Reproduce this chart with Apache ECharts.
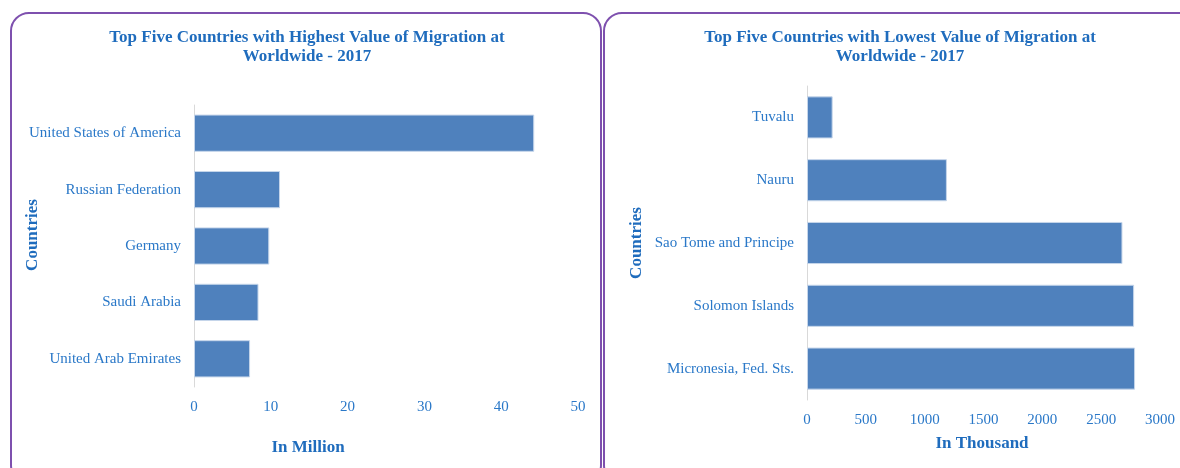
<!DOCTYPE html>
<html>
<head>
<meta charset="utf-8">
<script src="https://cdn.jsdelivr.net/npm/echarts@6/dist/echarts.min.js"></script>
<style>
  html, body { margin: 0; padding: 0; background: #ffffff; }
  #main { width: 1180px; height: 468px; }
</style>
</head>
<body>
<div id="main"></div>
<script>
// highest migration (millions)
var highCountries = ['United Arab Emirates', 'Saudi Arabia', 'Germany', 'Russian Federation', 'United States of America'];
var highValues = [7.3, 8.4, 9.8, 11.2, 44.3];

// lowest migration (thousands)
var lowCountries = ['Micronesia, Fed. Sts.', 'Solomon Islands', 'Sao Tome and Principe', 'Nauru', 'Tuvalu'];
var lowValues = [2788, 2780, 2681, 1189, 218];

var blueText = '#2a78c8';
var titleBlue = '#1f6cbd';
var serif = '"Liberation Serif", "DejaVu Serif", serif';

var myChart = echarts.init(document.getElementById('main'));

function panel(x, w) {
    return {
        type: 'rect',
        shape: { x: x, y: 13, width: w, height: 470, r: 18 },
        style: { fill: 'none', stroke: '#7e50ae', lineWidth: 2 },
        silent: true,
        z: -1
    };
}

function label(txt, x, y, size, rot) {
    return {
        type: 'text',
        x: x,
        y: y,
        rotation: rot || 0,
        style: {
            text: txt,
            align: 'center',
            verticalAlign: 'middle',
            fill: titleBlue,
            font: 'bold ' + size + 'px ' + serif,
            lineHeight: 19
        },
        silent: true
    };
}

function plain(v) {
    return String(v);
}

var option = {
    backgroundColor: '#ffffff',
    animation: false,
    graphic: [
        panel(11, 590),
        panel(604, 600),
        label('Top Five Countries with Highest Value of Migration at\nWorldwide - 2017', 307, 47, 17),
        label('Top Five Countries with Lowest Value of Migration at\nWorldwide - 2017', 900, 47, 17),
        label('In Million', 308, 448, 17),
        label('In Thousand', 982, 444, 17),
        label('Countries', 33, 235, 17, Math.PI / 2),
        label('Countries', 637, 243, 17, Math.PI / 2)
    ],
    grid: [
        { left: 194, right: 602, top: 105, bottom: 81 },
        { left: 807, right: 20, top: 86, bottom: 68 }
    ],
    xAxis: [{
        gridIndex: 0,
        type: 'value',
        min: 0,
        max: 50,
        interval: 10,
        axisLine: { show: false },
        axisTick: { show: false },
        splitLine: { show: false },
        axisLabel: { color: blueText, fontFamily: serif, fontSize: 15, margin: 13, formatter: plain }
    }, {
        gridIndex: 1,
        type: 'value',
        min: 0,
        max: 3000,
        interval: 500,
        axisLine: { show: false },
        axisTick: { show: false },
        splitLine: { show: false },
        axisLabel: { color: blueText, fontFamily: serif, fontSize: 15, margin: 13, formatter: plain }
    }],
    yAxis: [{
        gridIndex: 0,
        type: 'category',
        data: highCountries,
        axisLine: { lineStyle: { color: '#d9d9d9', width: 1 } },
        axisTick: { show: false },
        axisLabel: { color: blueText, fontFamily: serif, fontSize: 15, margin: 13 }
    }, {
        gridIndex: 1,
        type: 'category',
        data: lowCountries,
        axisLine: { lineStyle: { color: '#d9d9d9', width: 1 } },
        axisTick: { show: false },
        axisLabel: { color: blueText, fontFamily: serif, fontSize: 15, margin: 13 }
    }],
    series: [{
        name: 'Highest',
        type: 'bar',
        xAxisIndex: 0,
        yAxisIndex: 0,
        data: highValues,
        barCategoryGap: '34%',
        itemStyle: { color: '#4f81bd', borderColor: '#c5d5ea', borderWidth: 1 }
    }, {
        name: 'Lowest',
        type: 'bar',
        xAxisIndex: 1,
        yAxisIndex: 1,
        data: lowValues,
        barCategoryGap: '33%',
        itemStyle: { color: '#4f81bd', borderColor: '#c5d5ea', borderWidth: 1 }
    }]
};

myChart.setOption(option);
</script>
</body>
</html>
